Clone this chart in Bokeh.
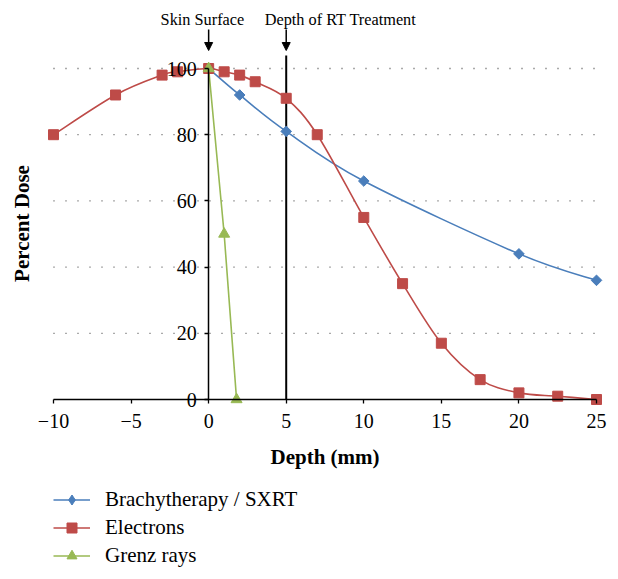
from bokeh.plotting import figure
from bokeh.models import (LinearAxis, FixedTicker, Arrow, NormalHead, Label, Legend,
                          LegendItem, Range1d, Grid, ColumnDataSource)
from bokeh.embed import file_html
from bokeh.resources import INLINE
import math

# ---------------- data ----------------
depth_brachy = [0, 2, 5, 10, 20, 25]
dose_brachy = [100, 92, 81, 66, 44, 36]

depth_electrons = [-10, -6, -3, -2, 0, 1, 2, 3, 5, 7, 10, 12.5, 15, 17.5, 20, 22.5, 25]
dose_electrons = [80, 92, 98, 99, 100, 99, 98, 96, 91, 80, 55, 35, 17, 6, 2, 1, 0]

depth_grenz = [0, 1, 1.8]
dose_grenz = [100, 50, 0]

series_names = ["Brachytherapy / SXRT", "Electrons", "Grenz rays"]

x_ticks = [-10, -5, 0, 5, 10, 15, 20, 25]
x_tick_labels = ["\u221210", "\u22125", "0", "5", "10", "15", "20", "25"]
y_ticks = [0, 20, 40, 60, 80, 100]
y_tick_labels = ["0", "20", "40", "60", "80", "100"]

skin_surface_depth = 0
treatment_depth = 5

# ---------------- styling ----------------
BLUE = "#4A7EBB"
RED = "#BE4B48"
GREEN = "#98B954"
FONT = "Liberation Serif"

# frame covers the whole figure; ranges chosen so -10..25 / 0..100 land where wanted
PX_X = 543 / 35.0
PX_Y = 331 / 100.0
W, H = 610, 571
x0 = -10 - 53 / PX_X
x1 = x0 + W / PX_X
y1 = 399 / PX_Y
y0 = y1 - H / PX_Y

p = figure(width=W, height=H, x_range=Range1d(x0, x1), y_range=Range1d(y0, y1),
           x_axis_location=None, y_axis_location=None, min_border=0,
           toolbar_location=None, output_backend="svg", outline_line_color=None,
           background_fill_color="white", border_fill_color="white")
for g in list(p.center):
    if isinstance(g, Grid):
        g.visible = False

# dotted horizontal grid lines, spanning the x-axis extent only
grid_y = y_ticks[1:]
p.segment(x0=[x_ticks[0]] * len(grid_y), x1=[x_ticks[-1] + 0.3] * len(grid_y),
          y0=grid_y, y1=grid_y, line_color="#555555", line_dash="1 11", line_width=1.3)


def style_axis(ax):
    ax.axis_line_color = "black"
    ax.axis_line_width = 1.5
    ax.major_tick_out = 4
    ax.major_tick_in = 0
    ax.minor_tick_out = 0
    ax.minor_tick_in = 0
    ax.major_tick_line_width = 1.3
    ax.major_label_text_font = FONT
    ax.major_label_text_font_size = "20px"
    ax.major_label_text_color = "black"


xaxis = LinearAxis(fixed_location=0, bounds=(x_ticks[0], x_ticks[-1]),
                   ticker=FixedTicker(ticks=x_ticks),
                   major_label_overrides={t: l for t, l in zip(x_ticks, x_tick_labels)},
                   axis_label="Depth (mm)")
style_axis(xaxis)
xaxis.major_label_standoff = 10
xaxis.axis_label_text_font = FONT
xaxis.axis_label_text_font_style = "bold"
xaxis.axis_label_text_font_size = "21px"
xaxis.axis_label_text_color = "black"
xaxis.axis_label_standoff = 14
p.add_layout(xaxis, "below")

yaxis = LinearAxis(fixed_location=skin_surface_depth, bounds=(y_ticks[0], y_ticks[-1]),
                   ticker=FixedTicker(ticks=y_ticks),
                   major_label_overrides={t: l for t, l in zip(y_ticks, y_tick_labels)})
style_axis(yaxis)
yaxis.major_label_standoff = 8
p.add_layout(yaxis, "left")

# depth of treatment line
p.segment(x0=[treatment_depth], y0=[0], x1=[treatment_depth], y1=[(399 - 55) / PX_Y],
          line_color="black", line_width=2)


def smooth(xs, ys):
    n = len(xs)
    out = dict(x0=[], y0=[], x1=[], y1=[], cx0=[], cy0=[], cx1=[], cy1=[])
    for i in range(n - 1):
        xm, ym = (xs[i - 1], ys[i - 1]) if i > 0 else (xs[i], ys[i])
        xa, ya = xs[i], ys[i]
        xb, yb = xs[i + 1], ys[i + 1]
        xp, yp = (xs[i + 2], ys[i + 2]) if i + 2 < n else (xb, yb)
        out["x0"].append(xa); out["y0"].append(ya)
        out["x1"].append(xb); out["y1"].append(yb)
        out["cx0"].append(xa + (xb - xm) / 6.0); out["cy0"].append(ya + (yb - ym) / 6.0)
        out["cx1"].append(xb - (xp - xa) / 6.0); out["cy1"].append(yb - (yp - ya) / 6.0)
    return ColumnDataSource(out)


LW = 1.6
# legend proxies (single point, hidden underneath the other markers at the skin surface)
b_leg = p.line(depth_brachy[:1], dose_brachy[:1], line_color=BLUE, line_width=LW)
e_leg = p.line(depth_electrons[:1], dose_electrons[:1], line_color=RED, line_width=LW)
b_leg_mk = p.scatter(depth_brachy[:1], dose_brachy[:1], marker="diamond", size=11,
                     fill_color=BLUE, line_color=BLUE)

# Brachytherapy
p.bezier(x0="x0", y0="y0", x1="x1", y1="y1", cx0="cx0", cy0="cy0", cx1="cx1", cy1="cy1",
         source=smooth(depth_brachy, dose_brachy), line_color=BLUE, line_width=LW)
# Electrons
p.bezier(x0="x0", y0="y0", x1="x1", y1="y1", cx0="cx0", cy0="cy0", cx1="cx1", cy1="cy1",
         source=smooth(depth_electrons, dose_electrons), line_color=RED, line_width=LW)
# Grenz (straight)
g_line = p.line(depth_grenz, dose_grenz, line_color=GREEN, line_width=LW)

b_pts = p.scatter(depth_brachy, dose_brachy, marker="square", angle=math.pi / 4, size=7.5,
                  fill_color=BLUE, line_color=BLUE)
e_pts = p.scatter(depth_electrons, dose_electrons, marker="square", size=10,
                  fill_color=RED, line_color=RED)
g_pts = p.scatter(depth_grenz, dose_grenz, marker="triangle", size=11,
                  fill_color=GREEN, line_color=GREEN)

# annotations above the frame
for xd, txt in [(-0.4, "Skin Surface"), (8.5, "Depth of RT Treatment")]:
    p.add_layout(Label(x=xd, y=(399 - 19) / PX_Y, text=txt, text_font=FONT,
                       text_font_size="16.3px", text_align="center", text_baseline="middle",
                       text_color="black"))
for xd in [skin_surface_depth, treatment_depth]:
    p.add_layout(Arrow(x_start=xd, y_start=(399 - 29) / PX_Y, x_end=xd, y_end=(399 - 50) / PX_Y,
                       line_color="black", line_width=1.5,
                       end=NormalHead(size=8, fill_color="black", line_color="black")))

p.add_layout(Label(x=-12.0, y=(399 - 223) / PX_Y, text="Percent Dose", angle=math.pi / 2,
                   text_font=FONT, text_font_style="bold", text_font_size="21px",
                   text_align="center", text_baseline="middle", text_color="black"))

legend = Legend(items=[
    LegendItem(label=series_names[0], renderers=[b_leg, b_leg_mk]),
    LegendItem(label=series_names[1], renderers=[e_leg, e_pts]),
    LegendItem(label=series_names[2], renderers=[g_line, g_pts]),
], location=(53, 3), orientation="vertical", padding=0, margin=0, spacing=3,
    glyph_width=37, glyph_height=25, label_height=25, label_standoff=15,
    label_text_font=FONT, label_text_font_size="21px", label_text_color="black",
    border_line_color=None, background_fill_alpha=0)
p.add_layout(legend)

open("out.html", "w").write(file_html(p, INLINE))
